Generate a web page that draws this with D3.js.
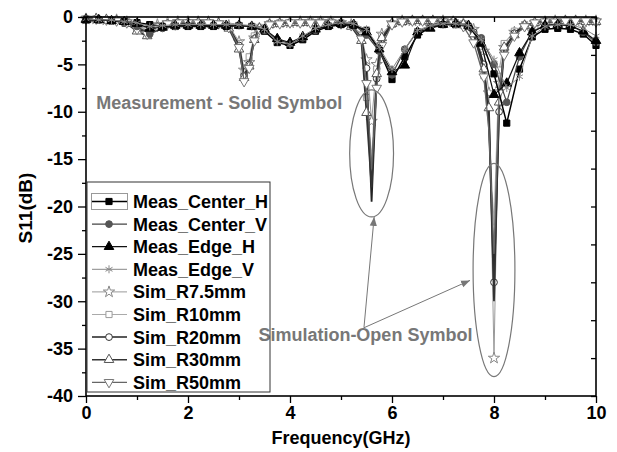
<!DOCTYPE html>
<html>
<head>
<meta charset="utf-8">
<script src="https://cdn.jsdelivr.net/npm/d3@7"></script>
<style>
  body { margin: 0; background: #fff; }
  text { font-family: Arial, "Liberation Sans", sans-serif; font-weight: bold; }
</style>
</head>
<body>
<svg width="617" height="452"></svg>
<script>
// measured data, 0.25 GHz steps
const measFreq = [0,0.25,0.5,0.75,1,1.25,1.5,1.75,2,2.25,2.5,2.75,3,3.25,3.5,3.75,4,4.25,4.5,4.75,
  5,5.25,5.5,5.75,6,6.25,6.5,6.75,7,7.25,7.5,7.75,8,8.25,8.5,8.75,9,9.25,9.5,9.75,10];
const measCenterH = [-0.3,-0.3,-0.4,-0.5,-0.6,-0.8,-1.0,-1.0,-1.0,-1.0,-1.0,-1.0,-0.9,-1.0,-1.5,-2.7,-3.0,-2.4,-1.5,-1.0,
  -0.8,-0.9,-1.4,-3.5,-6.6,-4.2,-1.9,-1.1,-0.8,-0.8,-1.0,-2.5,-6.0,-11.2,-5.5,-2.1,-1.3,-1.2,-1.3,-1.8,-3.0];
const measCenterV = [-0.3,-0.3,-0.4,-0.6,-1.0,-1.8,-1.2,-1.0,-0.9,-0.9,-0.9,-0.9,-0.9,-1.0,-1.4,-2.4,-2.8,-2.2,-1.4,-0.9,
  -0.7,-0.8,-1.9,-3.6,-6.1,-3.4,-1.5,-1.0,-0.8,-0.8,-1.0,-2.2,-5.0,-9.0,-4.2,-1.5,-0.9,-0.8,-0.9,-1.6,-2.7];
const measEdgeH = [-0.3,-0.3,-0.4,-0.5,-0.7,-1.2,-1.1,-0.9,-0.9,-0.9,-0.9,-0.9,-0.9,-1.0,-1.3,-2.3,-2.7,-2.1,-1.3,-0.9,
  -0.7,-0.8,-1.6,-3.4,-5.8,-5.1,-1.6,-1.2,-0.8,-0.7,-0.9,-2.8,-8.2,-7.0,-3.8,-1.6,-0.9,-0.8,-0.9,-1.5,-2.5];
const measEdgeV = [-0.2,-0.3,-0.3,-0.5,-0.6,-1.0,-0.9,-0.8,-0.8,-0.8,-0.8,-0.8,-0.8,-0.9,-1.3,-2.6,-2.9,-2.0,-1.2,-0.8,
  -0.6,-0.7,-1.3,-3.2,-5.5,-3.4,-1.4,-0.9,-0.7,-0.7,-0.9,-2.4,-4.5,-7.5,-6.3,-2.0,-1.0,-0.8,-0.8,-1.2,-2.0];

// simulated data
const simFreq = [0,0.2,0.4,0.6,0.8,1.0,1.2,1.4,1.6,1.8,2.0,2.2,2.4,2.6,2.8,3.0,3.1,3.2,3.3,3.4,
  3.6,3.8,4.0,4.2,4.4,4.6,4.8,5.0,5.2,5.4,5.5,5.6,5.7,5.8,6.0,6.2,6.4,6.6,6.8,7.0,
  7.2,7.4,7.6,7.8,7.9,8.0,8.1,8.2,8.4,8.6,8.8,9.0,9.2,9.4,9.6,9.8,10.0];
const simR75 = [-0.2,-0.2,-0.3,-0.3,-0.5,-0.9,-1.2,-0.8,-0.6,-0.5,-0.5,-0.5,-0.5,-0.6,-0.9,-2.6,-5.6,-4.8,-2.2,-1.2,
  -0.7,-0.6,-0.6,-0.5,-0.5,-0.5,-0.5,-0.6,-0.8,-1.8,-4.5,-11.0,-5.0,-1.8,-0.6,-0.4,-0.4,-0.4,-0.4,-0.4,
  -0.5,-0.7,-1.3,-3.6,-8.0,-36.0,-7.0,-3.2,-1.6,-0.9,-0.6,-0.5,-0.4,-0.4,-0.4,-0.4,-0.4];
const simR10 = [-0.2,-0.2,-0.3,-0.3,-0.5,-1.0,-1.4,-0.9,-0.7,-0.6,-0.6,-0.6,-0.6,-0.7,-1.0,-2.8,-5.8,-4.2,-2.0,-1.1,
  -0.7,-0.6,-0.6,-0.6,-0.5,-0.5,-0.5,-0.6,-0.8,-2.0,-8.5,-15.0,-5.5,-2.0,-0.7,-0.5,-0.4,-0.4,-0.4,-0.4,
  -0.5,-0.7,-1.4,-6.2,-12.0,-22.0,-5.6,-2.8,-1.5,-0.8,-0.6,-0.5,-0.4,-0.4,-0.4,-0.4,-0.4];
const simR20 = [-0.2,-0.2,-0.3,-0.4,-0.6,-1.2,-1.6,-1.0,-0.7,-0.6,-0.6,-0.6,-0.6,-0.7,-1.1,-3.0,-6.2,-5.0,-2.3,-1.2,
  -0.8,-0.7,-0.6,-0.6,-0.6,-0.6,-0.6,-0.7,-0.9,-2.2,-5.4,-19.5,-6.5,-2.4,-0.8,-0.5,-0.4,-0.4,-0.4,-0.5,
  -0.5,-0.8,-1.6,-5.0,-11.0,-28.0,-10.0,-3.5,-1.7,-0.9,-0.6,-0.5,-0.5,-0.4,-0.4,-0.4,-0.5];
const simR30 = [-0.2,-0.2,-0.3,-0.4,-0.7,-1.5,-2.0,-1.1,-0.8,-0.7,-0.7,-0.6,-0.6,-0.7,-1.2,-3.4,-6.4,-5.2,-2.4,-1.2,
  -0.8,-0.7,-0.6,-0.6,-0.6,-0.6,-0.6,-0.7,-1.0,-2.5,-10.1,-18.0,-6.0,-2.2,-0.7,-0.5,-0.4,-0.4,-0.4,-0.5,
  -0.5,-0.8,-1.8,-5.5,-9.6,-30.0,-9.0,-3.2,-1.9,-0.9,-0.6,-0.5,-0.5,-0.4,-0.4,-0.5,-0.5];
const simR50 = [-0.2,-0.2,-0.3,-0.4,-0.6,-1.3,-1.8,-1.0,-0.7,-0.6,-0.6,-0.6,-0.6,-0.7,-1.1,-3.2,-6.8,-5.4,-2.5,-1.3,
  -0.8,-0.7,-0.6,-0.6,-0.6,-0.6,-0.6,-0.7,-0.9,-2.3,-7.0,-16.0,-7.5,-3.0,-0.8,-0.5,-0.4,-0.4,-0.4,-0.5,
  -0.6,-1.0,-2.7,-6.3,-12.0,-25.0,-8.0,-4.0,-2.0,-1.0,-0.6,-0.5,-0.5,-0.4,-0.4,-0.4,-0.5];

const seriesNames = ["Meas_Center_H","Meas_Center_V","Meas_Edge_H","Meas_Edge_V",
  "Sim_R7.5mm","Sim_R10mm","Sim_R20mm","Sim_R30mm","Sim_R50mm"];
const xTicks = [0,2,4,6,8,10];
const yTicks = [0,-5,-10,-15,-20,-25,-30,-35,-40];

// styles per series; gap = dB range where the symbols are skipped (like Origin's skip points)
const styles = {
  "Meas_Center_H": {line:"#000", lw:1.5, sym:"square",   fill:"#000", stroke:"#000"},
  "Meas_Center_V": {line:"#444", lw:1.2, sym:"circle",   fill:"#555", stroke:"#555"},
  "Meas_Edge_H":   {line:"#111", lw:1.2, sym:"triangle", fill:"#000", stroke:"#000"},
  "Meas_Edge_V":   {line:"#888", lw:1,   sym:"asterisk", fill:"none", stroke:"#888"},
  "Sim_R7.5mm":    {line:"#999", lw:1,   sym:"star",     fill:"#fff", stroke:"#888"},
  "Sim_R10mm":     {line:"#aaa", lw:1.2, sym:"square",   fill:"#fff", stroke:"#999", gap:[-40,-11]},
  "Sim_R20mm":     {line:"#222", lw:1.8, sym:"circle",   fill:"#fff", stroke:"#333", gap:[-25,-11]},
  "Sim_R30mm":     {line:"#333", lw:1.8, sym:"triangle", fill:"#fff", stroke:"#555", gap:[-40,-11]},
  "Sim_R50mm":     {line:"#666", lw:1.3, sym:"tridown",  fill:"#fff", stroke:"#777", gap:[-40,-11]}
};

const dataByName = {
  "Meas_Center_H": [measFreq, measCenterH],
  "Meas_Center_V": [measFreq, measCenterV],
  "Meas_Edge_H":   [measFreq, measEdgeH],
  "Meas_Edge_V":   [measFreq, measEdgeV],
  "Sim_R7.5mm":    [simFreq, simR75],
  "Sim_R10mm":     [simFreq, simR10],
  "Sim_R20mm":     [simFreq, simR20],
  "Sim_R30mm":     [simFreq, simR30],
  "Sim_R50mm":     [simFreq, simR50]
};

const svg = d3.select("svg");
const x = d3.scaleLinear().domain([0, 10]).range([86, 596]);
const y = d3.scaleLinear().domain([-40, 0]).range([396, 17]);

function symbolPath(kind) {
  if (kind === "square") return d3.symbol(d3.symbolSquare, 38)();
  if (kind === "circle") return d3.symbol(d3.symbolCircle, 36)();
  if (kind === "triangle" || kind === "tridown") return d3.symbol(d3.symbolTriangle, 40)();
  if (kind === "star") return d3.symbol(d3.symbolStar, 40)();
  // asterisk
  return "M0,-4V4M-3.5,-2L3.5,2M-3.5,2L3.5,-2";
}

//draw series: sims first, measurements on top
const drawOrder = seriesNames.slice(4).concat(seriesNames.slice(0, 4));
const line = d3.line().x(d => x(d[0])).y(d => y(d[1]));

drawOrder.forEach(name => {
  const st = styles[name];
  const [fs, vs] = dataByName[name];
  const pts = fs.map((f, i) => [f, vs[i]]);
  const marked = st.gap ? pts.filter(d => d[1] < st.gap[0] || d[1] > st.gap[1]) : pts;
  const g = svg.append("g").attr("class", "series");
  g.append("path")
    .attr("d", line(pts))
    .attr("fill", "none")
    .attr("stroke", st.line)
    .attr("stroke-width", st.lw);
  g.selectAll("path.m")
    .data(marked)
    .enter()
    .append("path")
    .attr("class", "m")
    .attr("d", symbolPath(st.sym))
    .attr("transform", d => "translate(" + x(d[0]) + "," + y(d[1]) + ")" + (st.sym === "tridown" ? " rotate(180)" : ""))
    .attr("fill", st.fill)
    .attr("stroke", st.stroke)
    .attr("stroke-width", 1);
});

//axes
const axG = svg.append("g");
axG.append("g").attr("transform", "translate(0,396)")
  .call(d3.axisBottom(x).tickValues(xTicks).tickSize(7).tickPadding(3).tickFormat(d => String(d)));
axG.append("g").attr("transform", "translate(0,396)")
  .call(d3.axisBottom(x).tickValues([1,3,5,7,9]).tickSize(4).tickFormat(""));
axG.append("g").attr("transform", "translate(86,0)")
  .call(d3.axisLeft(y).tickValues(yTicks).tickSize(8).tickPadding(5).tickFormat(d => String(d)));
axG.append("g").attr("transform", "translate(86,0)")
  .call(d3.axisLeft(y).tickValues([-2.5,-7.5,-12.5,-17.5,-22.5,-27.5,-32.5,-37.5]).tickSize(4).tickFormat(""));
// top and right: inward ticks, no labels
axG.append("g").attr("transform", "translate(0,17)")
  .call(d3.axisBottom(x).tickValues(d3.range(0, 11)).tickSize(5).tickFormat(""));
axG.append("g").attr("transform", "translate(596,0)")
  .call(d3.axisLeft(y).tickValues(d3.range(0, -41, -4)).tickSize(5).tickFormat(""));

axG.selectAll(".domain").remove();
axG.selectAll("text")
  .attr("font-size", 18)
  .attr("font-weight", "bold")
  .attr("fill", "#000")
  .attr("font-family", "Arial, 'Liberation Sans', sans-serif");
axG.selectAll("line").attr("stroke", "#000").attr("stroke-width", 1.3);

svg.append("rect")
  .attr("x", 86).attr("y", 17).attr("width", 510).attr("height", 379)
  .attr("fill", "none").attr("stroke", "#000").attr("stroke-width", 1.6);

svg.append("text")
  .attr("x", 341).attr("y", 444).attr("text-anchor", "middle")
  .attr("font-size", 18).text("Frequency(GHz)");
svg.append("text")
  .attr("transform", "translate(32,208) rotate(-90)").attr("text-anchor", "middle")
  .attr("font-size", 19).text("S11(dB)");

//annotations
const annoColor = "#777";
const defs = svg.append("defs");
defs.append("marker")
  .attr("id", "arrow")
  .attr("markerUnits", "userSpaceOnUse")
  .attr("viewBox", "0 -5 10 10")
  .attr("refX", 10).attr("refY", 0)
  .attr("markerWidth", 9).attr("markerHeight", 9)
  .attr("orient", "auto")
  .append("path").attr("d", "M0,-4L10,0L0,4Z").attr("fill", annoColor);

svg.append("ellipse")
  .attr("cx", x(5.6)).attr("cy", y(-14.4))
  .attr("rx", x(0.43) - x(0)).attr("ry", y(-6.7) - y(0))
  .attr("fill", "none").attr("stroke", annoColor).attr("stroke-width", 1.2);
svg.append("ellipse")
  .attr("cx", x(8.0)).attr("cy", y(-26.7))
  .attr("rx", x(0.41) - x(0)).attr("ry", y(-11.25) - y(0))
  .attr("fill", "none").attr("stroke", annoColor).attr("stroke-width", 1.2);

const arrowFrom = [5.45, -32.8];
[[5.65, -21.1], [7.53, -27.8]].forEach(to => {
  svg.append("line")
    .attr("x1", x(arrowFrom[0])).attr("y1", y(arrowFrom[1]))
    .attr("x2", x(to[0])).attr("y2", y(to[1]))
    .attr("stroke", annoColor).attr("stroke-width", 1)
    .attr("marker-end", "url(#arrow)");
});

svg.append("text")
  .attr("x", x(0.2)).attr("y", y(-9.7))
  .attr("font-size", 18).attr("fill", annoColor)
  .text("Measurement - Solid Symbol");
svg.append("text")
  .attr("x", x(3.38)).attr("y", y(-34.2))
  .attr("font-size", 18).attr("fill", annoColor)
  .text("Simulation-Open Symbol");

//legend (transparent box, as in the original)
const legend = svg.append("g");
legend.append("rect")
  .attr("x", 87).attr("y", 182).attr("width", 183).attr("height", 210)
  .attr("fill", "none").attr("stroke", "#333").attr("stroke-width", 1);
legend.append("rect")
  .attr("x", 91.5).attr("y", 193.5).attr("width", 36).attr("height", 16)
  .attr("fill", "none").attr("stroke", "#999").attr("stroke-width", 1);

seriesNames.forEach((name, i) => {
  const st = styles[name];
  const cy = 201.5 + i * 22.6;
  legend.append("line")
    .attr("x1", 92).attr("x2", 127).attr("y1", cy).attr("y2", cy)
    .attr("stroke", st.line).attr("stroke-width", Math.min(st.lw, 1.5));
  legend.append("path")
    .attr("d", symbolPath(st.sym))
    .attr("transform", "translate(109," + cy + ")" + (st.sym === "tridown" ? " rotate(180)" : ""))
    .attr("fill", st.fill).attr("stroke", st.stroke).attr("stroke-width", 1);
  legend.append("text")
    .attr("x", 133).attr("y", cy + 6.5)
    .attr("font-size", 18).attr("fill", "#000")
    .text(name);
});
</script>
</body>
</html>
